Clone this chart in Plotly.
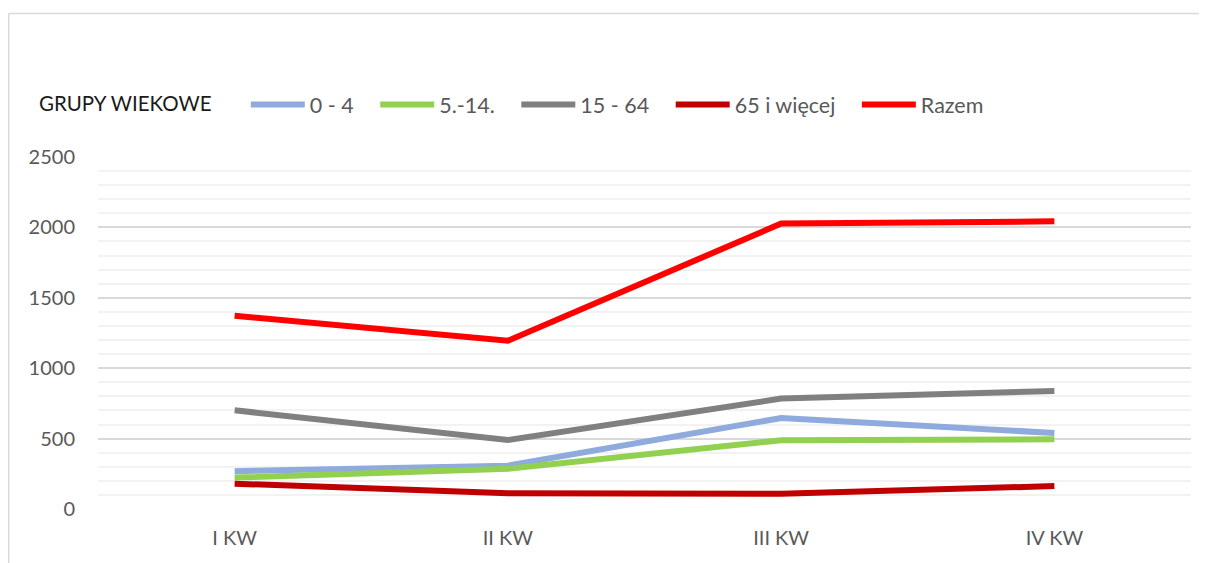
import plotly.graph_objects as go

categories = ["I KW", "II KW", "III KW", "IV KW"]
age_0_4 = [268, 308, 646, 540]
age_5_14 = [223, 285, 488, 495]
age_15_64 = [701, 490, 784, 838]
age_65_plus = [180, 112, 108, 163]
total = [1373, 1195, 2027, 2043]

series_names = ["0 - 4", "5.-14.", "15 - 64", "65 i więcej", "Razem"]
series_values = [age_0_4, age_5_14, age_15_64, age_65_plus, total]
series_colors = ["#8FAADC", "#92D050", "#808080", "#C00000", "#FF0000"]

# page has an 8px body margin, so the figure is drawn 8px in from the top-left
OFF = 8
W, H = 1207 - OFF, 563 - OFF
ml, mr, mt, mb = 90, 16, 149, 54
pw = W - ml - mr
ph = H - mt - mb

NB = "\u00a0"

fig = go.Figure()
for name, vals, col in zip(series_names, series_values, series_colors):
    fig.add_trace(go.Scatter(
        x=categories, y=vals, name=name + NB * 3, mode="lines",
        line=dict(color=col, width=6),
    ))

def px_x(p):
    return (p - ml) / pw

def px_y(p):
    return (H - mb - p) / ph

fig.update_layout(
    width=W, height=H,
    margin=dict(l=ml, r=mr, t=mt, b=mb),
    paper_bgcolor="white", plot_bgcolor="white",
    font=dict(family="Lato, Open Sans, sans-serif", size=20, color="#595959"),
    showlegend=True,
    legend=dict(
        orientation="h",
        x=px_x(29), xanchor="left",
        y=px_y(96.5), yanchor="middle",
        title=dict(text="GRUPY WIEKOWE" + NB * 5, side="left",
                   font=dict(color="#1a1a1a", size=20.5)),
        font=dict(size=21.5, color="#595959"),
        itemwidth=54,
        tracegroupgap=0,
        bgcolor="rgba(0,0,0,0)",
    ),
    xaxis=dict(
        type="category", range=[-0.5, 3.5],
        showgrid=False, zeroline=False,
        showline=False, automargin=False,
        ticks="", ticklabelstandoff=15,
        tickfont=dict(size=20, color="#595959"),
    ),
    yaxis=dict(
        range=[0, 2500], dtick=500, tick0=0,
        showgrid=True, gridcolor="#D9D9D9", gridwidth=1.5,
        zeroline=False, showline=False, automargin=False,
        ticks="", ticklabelstandoff=22,
        tickfont=dict(size=20, color="#595959"),
        minor=dict(dtick=100, showgrid=True, gridcolor="#F2F2F2", gridwidth=1.5),
    ),
    shapes=[
        dict(type="line", xref="paper", yref="paper",
             x0=px_x(0.75), x1=px_x(1250), y0=px_y(5.5), y1=px_y(5.5),
             line=dict(color="#D9D9D9", width=1.5), layer="below"),
        dict(type="line", xref="paper", yref="paper",
             x0=px_x(0.75), x1=px_x(0.75), y0=px_y(5.5), y1=px_y(600),
             line=dict(color="#D9D9D9", width=1.5), layer="below"),
    ],
)

fig.write_html("out.html")
